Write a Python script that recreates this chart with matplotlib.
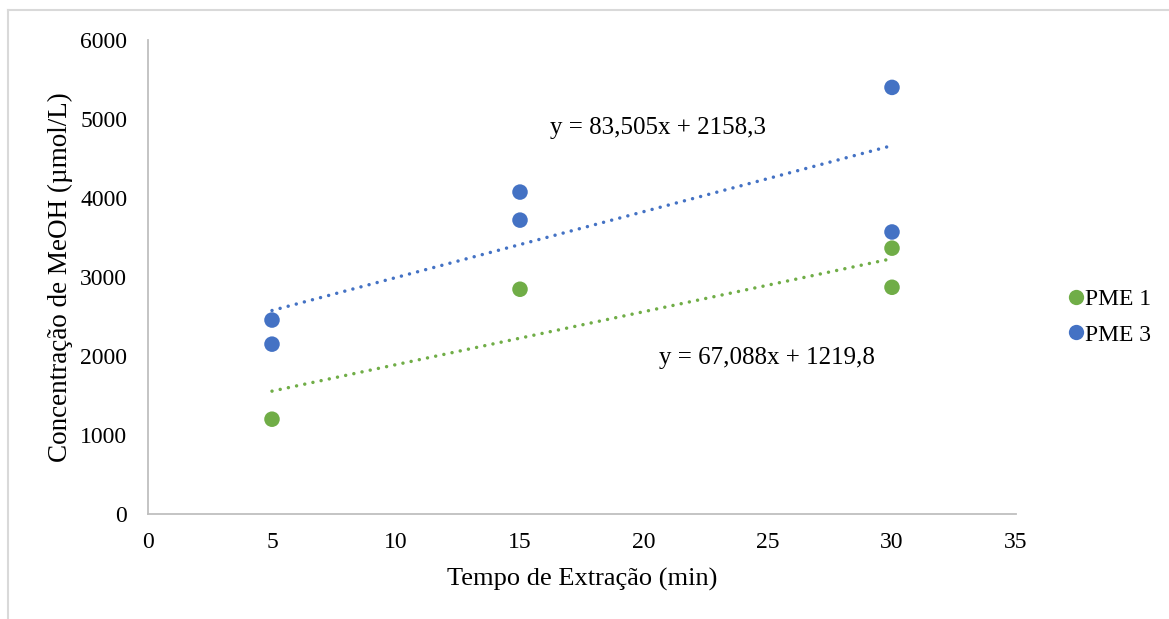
import matplotlib
matplotlib.use("Agg")
import matplotlib.pyplot as plt
from matplotlib.lines import Line2D
import numpy as np

plt.rcParams['font.family'] = ['Liberation Serif', 'DejaVu Serif']

# Data
pme1_x = [5, 15, 30, 30]
pme1_y = [1200, 2845, 3365, 2870]
pme3_x = [5, 5, 15, 15, 30, 30]
pme3_y = [2455, 2150, 4075, 3720, 5400, 3570]

# Trendline coefficients (slope, intercept) as shown in chart
pme1_fit = (67.088, 1219.8)
pme3_fit = (83.505, 2158.3)
fit_range = [5, 30]

eq1_text = "y = 67,088x + 1219,8"
eq3_text = "y = 83,505x + 2158,3"

green = '#70AD47'
blue = '#4472C4'

fig = plt.figure(figsize=(11.69, 6.19), dpi=100)
ax = fig.add_axes([148/1169, 1 - 514/619, (1016-148)/1169, (514-40)/619])

# trendlines
xf = np.array(fit_range, dtype=float)
ax.plot(xf, pme1_fit[0]*xf + pme1_fit[1], color=green, lw=2.5,
        linestyle=(0, (0.01, 2.4)), dash_capstyle='round', zorder=2)
ax.plot(xf, pme3_fit[0]*xf + pme3_fit[1], color=blue, lw=2.5,
        linestyle=(0, (0.01, 2.4)), dash_capstyle='round', zorder=2)

ax.scatter(pme1_x, pme1_y, s=125, color=green, edgecolors='none', zorder=3, label='PME 1')
ax.scatter(pme3_x, pme3_y, s=125, color=blue, edgecolors='none', zorder=3, label='PME 3')

ax.set_xlim(0, 35)
ax.set_ylim(0, 6000)
ax.set_xticks(range(0, 36, 5))
ax.set_yticks(range(0, 6001, 1000))

for s in ['top', 'right']:
    ax.spines[s].set_visible(False)
for s in ['left', 'bottom']:
    ax.spines[s].set_color('#BFBFBF')
    ax.spines[s].set_linewidth(1.3)

ax.tick_params(axis='both', length=0, labelsize=17, colors='black')
ax.tick_params(axis='y', pad=15)
ax.tick_params(axis='x', pad=13)

ax.set_xlabel('Tempo de Extração (min)', fontsize=19, labelpad=11)
ax.set_ylabel('Concentração de MeOH (µmol/L)', fontsize=19.5, labelpad=5)

ax.text(658/1169, 1 - 128/619, eq3_text, transform=fig.transFigure,
        ha='center', va='center', fontsize=18)
ax.text(767/1169, 1 - 358/619, eq1_text, transform=fig.transFigure,
        ha='center', va='center', fontsize=18)

handles = [Line2D([], [], marker='o', linestyle='none', color=green, markersize=11, markeredgewidth=0),
           Line2D([], [], marker='o', linestyle='none', color=blue, markersize=11, markeredgewidth=0)]
fig.legend(handles, ['PME 1', 'PME 3'], loc='center left',
           bbox_to_anchor=(1058/1169, 1 - 317/619), frameon=False, fontsize=17,
           handlelength=0.5, handletextpad=0.15, labelspacing=0.6, borderpad=0)

# outer border
fig.add_artist(Line2D([8/1169, 1], [1 - 10/619, 1 - 10/619], transform=fig.transFigure,
                      color='#D9D9D9', lw=1.5))
fig.add_artist(Line2D([8/1169, 8/1169], [0, 1 - 10/619], transform=fig.transFigure,
                      color='#D9D9D9', lw=1.5))

fig.savefig('out.png', dpi=100)
